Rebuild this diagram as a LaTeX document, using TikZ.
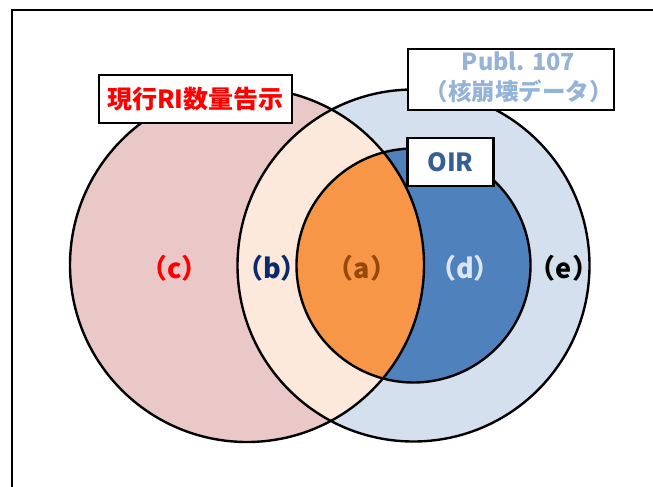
\documentclass[tikz,border=0pt]{standalone}
\usepackage{fontspec}
\newfontfamily\jp{Noto Sans CJK JP}
\definecolor{pinkc}{HTML}{EBC8C8}
\definecolor{peach}{HTML}{FCE9DB}
\definecolor{lblue}{HTML}{D5E0EF}
\definecolor{orng}{HTML}{F79646}
\definecolor{dblue}{HTML}{4F81BD}
\definecolor{navy}{HTML}{0B2A6B}
\definecolor{brn}{HTML}{974706}
\definecolor{pale}{HTML}{DCE6F2}
\definecolor{publ}{HTML}{95B3D7}
\definecolor{oir}{HTML}{376092}
\tikzset{
  outl/.style={draw=black, line width=2.4pt},
  lbl/.style={font=\jp\bfseries\fontsize{27}{32}\selectfont, inner sep=0pt},
  box/.style={draw=black, fill=white, line width=2.5pt, inner sep=0pt, align=center}
}
\begin{document}
\begin{tikzpicture}[x=1pt,y=-1pt]
\useasboundingbox (0,0) rectangle (653,487);
\clip (0,0) rectangle (653,487);
\coordinate (P) at (247,265);
\coordinate (B) at (413.5,265.5);
% fills
\fill[pinkc] (P) circle[radius=177];
\fill[lblue] (B) circle[radius=176];
\begin{scope}
  \clip (P) circle[radius=177];
  \fill[peach] (B) circle[radius=176];
\end{scope}
\fill[dblue] (B) circle[radius=117];
\begin{scope}
  \clip (P) circle[radius=177];
  \fill[orng] (B) circle[radius=117];
\end{scope}
% outlines
\draw[outl] (P) circle[radius=177];
\draw[outl] (B) circle[radius=176];
\draw[outl] (B) circle[radius=117];
% frame
\draw[line width=2.5pt] (12,10) rectangle (700,530);
% region labels
\node[lbl, text=red] (c) at (174.5,268) {（c）};
\node[lbl, text=navy] (b) at (272,268) {（b）};
\node[lbl, text=brn] (a) at (362,268) {（a）};
\node[lbl, text=pale] (d) at (465,268) {（d）};
\node[lbl, text=black] (e) at (564,268) {（e）};
% boxes
\node[box, minimum width=193pt, minimum height=48pt, text=red,
      font=\jp\bfseries\fontsize{25}{30}\selectfont] (kokuji) at (195.5,99) {現行RI数量告示};
\node[box, minimum width=206pt, minimum height=61pt, text=publ,
      font=\jp\bfseries\fontsize{23.5}{31}\selectfont] (pub) at (511,79.5)
      {\hspace*{15pt}\begin{tabular}{@{}c@{}}Publ. 107\\[-1pt]（核崩壊データ）\end{tabular}};
\node[box, minimum width=86pt, minimum height=48pt, text=oir,
      font=\jp\bfseries\fontsize{25}{28}\selectfont] (oirbox) at (450.5,162) {OIR};
\end{tikzpicture}
\end{document}
